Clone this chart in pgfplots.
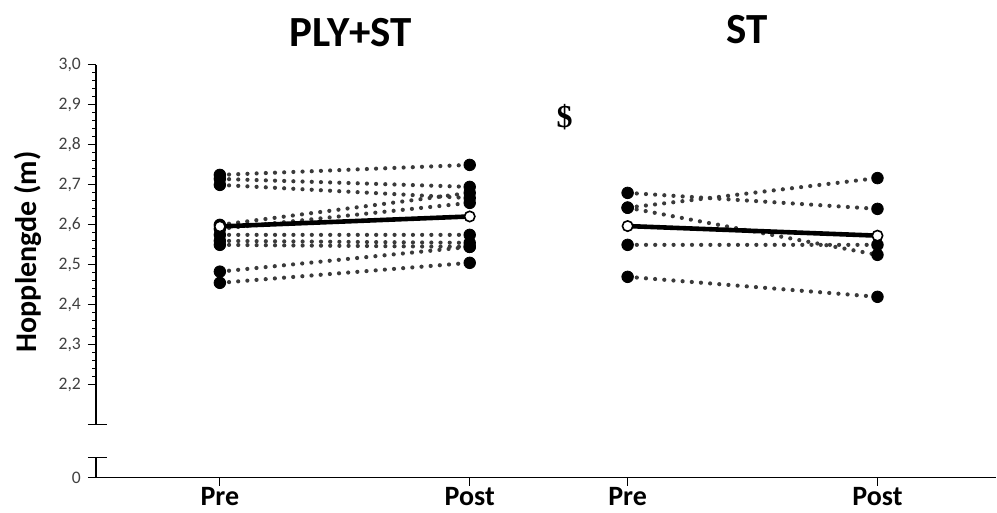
\documentclass[border=0pt]{standalone}
\usepackage{pgfplots}
\pgfplotsset{compat=1.18}
\usepackage{fontspec}
\setmainfont{Carlito}
\newfontfamily\timesb{Liberation Serif}
\definecolor{dotc}{HTML}{3A3A3A}
\definecolor{ticklab}{HTML}{404040}
\begin{document}
\begin{tikzpicture}
\begin{axis}[
  scale only axis, width=450.5pt, height=206.5pt,
  xmin=96, xmax=997, ymin=1.9675, ymax=3.0,
  axis lines=left, axis line style={-, black, line width=0.6pt},
  y axis line style={draw=none},
  clip=false,
  tick align=outside,
  xtick={220,470,628,878}, xticklabels={Pre,Post,Pre,Post},
  ytick={1.9675,2.2,2.3,2.4,2.5,2.6,2.7,2.8,2.9,3.0},
  yticklabels={0,{2,2},{2,3},{2,4},{2,5},{2,6},{2,7},{2,8},{2,9},{3,0}},
  minor ytick={2.22,2.24,2.26,2.28,2.32,2.34,2.36,2.38,2.42,2.44,2.46,2.48,2.52,2.54,2.56,2.58,2.62,2.64,2.66,2.68,2.72,2.74,2.76,2.78,2.82,2.84,2.86,2.88,2.92,2.94,2.96,2.98},
  major tick length=4pt, minor tick length=1.8pt,
  tick style={black, line width=0.5pt},
  yticklabel style={font=\fontsize{8.8}{10}\selectfont, text=ticklab},
  xticklabel style={font=\bfseries\fontsize{14}{16}\selectfont, yshift=2.5pt},
  /pgf/number format/assume math mode=true,
  every axis plot/.append style={line cap=round},
  indiv/.style={dotc, line width=2.1pt, dash pattern=on 0pt off 4.6pt, mark=*, mark size=2.9pt, mark options={solid, fill=black, draw=black, line width=0.4pt}},
  meanl/.style={black, line width=2.3pt, mark=*, mark size=2.6pt, mark options={solid, fill=white, draw=black, line width=0.8pt}},
]
% bounding box of the whole picture
\path (axis cs:0,3.1625) rectangle (axis cs:997,1.8925);
% broken y axis
\draw[line width=0.6pt] (axis cs:96,3.0) -- (axis cs:96,2.1);
\draw[line width=0.6pt] (axis cs:88,2.1) -- (axis cs:107,2.1);
\draw[line width=0.6pt] (axis cs:96,2.0175) -- (axis cs:96,1.9675);
\draw[line width=0.6pt] (axis cs:88,2.0175) -- (axis cs:107,2.0175);
% PLY+ST individuals
\addplot[indiv] coordinates {(220,2.725) (470,2.75)};
\addplot[indiv] coordinates {(220,2.715) (470,2.695)};
\addplot[indiv] coordinates {(220,2.70) (470,2.667)};
\addplot[indiv] coordinates {(220,2.60) (470,2.68)};
\addplot[indiv] coordinates {(220,2.59) (470,2.655)};
\addplot[indiv] coordinates {(220,2.575) (470,2.575)};
\addplot[indiv] coordinates {(220,2.56) (470,2.555)};
\addplot[indiv] coordinates {(220,2.55) (470,2.545)};
\addplot[indiv] coordinates {(220,2.483) (470,2.545)};
\addplot[indiv] coordinates {(220,2.455) (470,2.505)};
% ST individuals
\addplot[indiv] coordinates {(628,2.68) (878,2.64)};
\addplot[indiv] coordinates {(628,2.643) (878,2.717)};
\addplot[indiv] coordinates {(628,2.643) (878,2.525)};
\addplot[indiv] coordinates {(628,2.55) (878,2.55)};
\addplot[indiv] coordinates {(628,2.47) (878,2.42)};
% means
\addplot[meanl] coordinates {(220,2.596) (470,2.621)};
\addplot[meanl] coordinates {(628,2.597) (878,2.573)};
% titles and labels
\node[font=\bfseries\fontsize{21.5}{24}\selectfont] at (axis cs:351,3.08) {PLY+ST};
\node[font=\bfseries\fontsize{21.5}{24}\selectfont] at (axis cs:748,3.0875) {ST};
\node[font=\timesb\bfseries\fontsize{16}{18}\selectfont] at (axis cs:565,2.87) {\$};
\node[rotate=90, font=\bfseries\fontsize{15}{18}\selectfont] at (axis cs:28,2.5325) {Hopplengde (m)};
\end{axis}
\end{tikzpicture}
\end{document}
